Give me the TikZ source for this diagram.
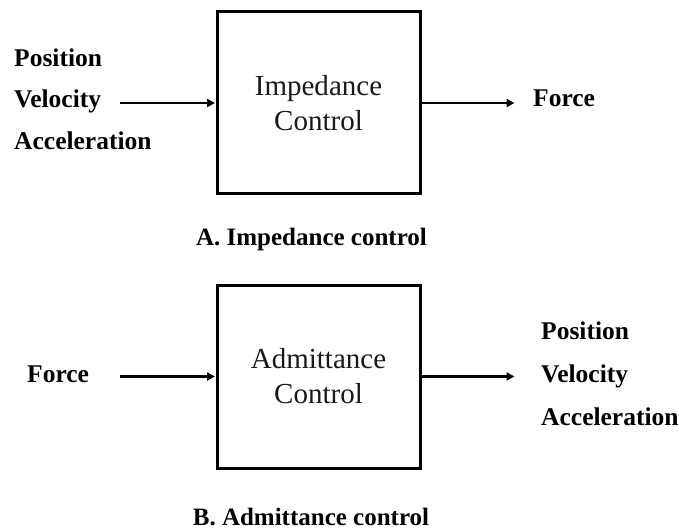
\documentclass[tikz,border=0pt]{standalone}
\usepackage{fontspec}
\setmainfont{Liberation Serif}
\usetikzlibrary{arrows.meta}

\tikzset{
  ctrlbox/.style={draw=black, line width=3pt, minimum width=203pt, minimum height=182pt,
    align=center, text=black!90, font=\fontsize{29}{35}\selectfont, inner sep=0pt},
  signal/.style={line width=2.4pt, -{Triangle[length=8pt,width=8pt]}, shorten >=0.5pt},
  lbl/.style={anchor=base west, inner sep=0pt, font=\fontsize{25.5}{30}\selectfont\bfseries},
  caption/.style={anchor=base, inner sep=0pt, font=\fontsize{25}{30}\selectfont\bfseries},
}

\begin{document}
\begin{tikzpicture}[x=1pt, y=1pt]
  \useasboundingbox (0,0) rectangle (679,-529);

  % --- A: impedance control ---
  \node[ctrlbox] (boxA) at (318.5,-103) {Impedance\\Control};
  \coordinate (inA) at (120,-103);
  \coordinate (outA) at (515,-103);
  \draw[signal] (inA) -- (boxA.west);
  \draw[signal] (boxA.east) -- (outA);

  \node[lbl] (posA) at (14,-67) {Position};
  \node[lbl] (velA) at (14,-108) {Velocity};
  \node[lbl] (accA) at (14,-150) {Acceleration};
  \node[lbl] (forceA) at (533,-107) {Force};
  \node[caption] (capA) at (311.5,-245) {A. Impedance control};

  % --- B: admittance control ---
  \node[ctrlbox, minimum height=183pt] (boxB) at (318.5,-376.5) {Admittance\\Control};
  \coordinate (inB) at (120,-376.5);
  \coordinate (outB) at (515,-376.5);
  \draw[signal] (inB) -- (boxB.west);
  \draw[signal] (boxB.east) -- (outB);

  \node[lbl] (forceB) at (27,-382) {Force};
  \node[lbl] (posB) at (541,-339) {Position};
  \node[lbl] (velB) at (541,-382) {Velocity};
  \node[lbl] (accB) at (541,-425) {Acceleration};
  \node[caption] (capB) at (311,-525) {B. Admittance control};
\end{tikzpicture}
\end{document}
